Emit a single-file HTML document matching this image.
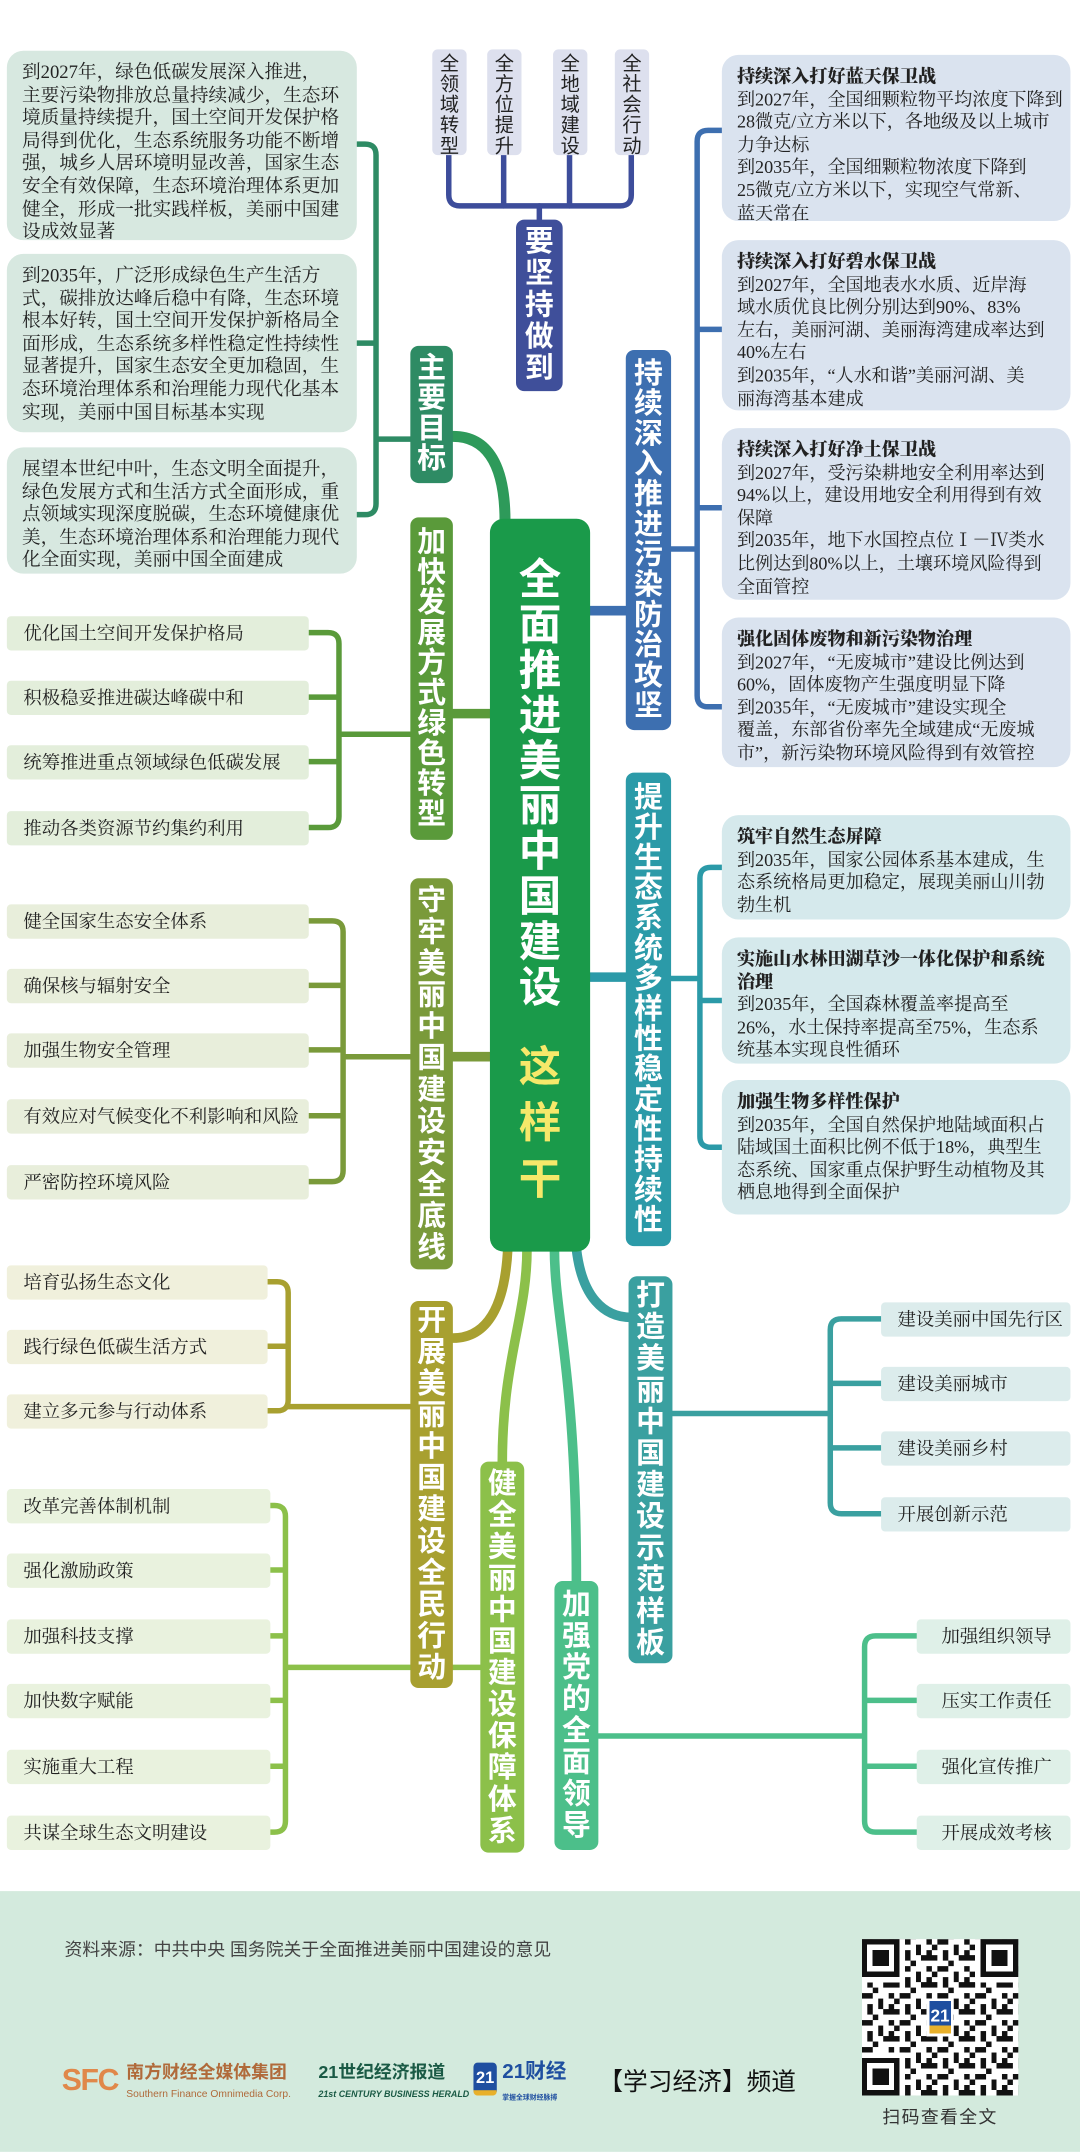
<!DOCTYPE html>
<html><head><meta charset="utf-8">
<style>
html,body{margin:0;padding:0;background:#fff;}
body{width:1080px;height:2151px;overflow:hidden;position:relative;}
#s{position:absolute;left:0;top:0;width:787px;height:1568px;transform:scale(1.37236);transform-origin:0 0;font-family:"Liberation Serif","Noto Serif CJK SC",serif;}
.a{position:absolute;}
.box{position:absolute;border-radius:12px;font-size:13.6px;line-height:16.6px;color:#222;white-space:nowrap;box-sizing:border-box;padding:8px 0 0 11px;}
.lb{background:#d7e8e0;}
.rb{background:#dae3ef;font-size:13.2px;}
.tb{background:#d5e9ec;font-size:13.2px;}
.box b{font-weight:900;}
.cat{position:absolute;border-radius:6px;color:#fff;font-weight:bold;font-family:"Liberation Sans","Noto Sans CJK SC",sans-serif;font-size:21px;display:flex;align-items:center;justify-content:center;}
.cat span{display:block;width:22px;word-break:break-all;white-space:normal;text-align:center;}
.it{position:absolute;height:25px;line-height:25px;font-size:13.4px;color:#222;box-sizing:border-box;padding-left:12px;border-radius:3px;white-space:nowrap;}
.sm{position:absolute;top:36px;width:25px;height:77px;background:#dde0ee;border-radius:4px;font-size:14px;line-height:15px;color:#222;text-align:center;padding-top:3px;box-sizing:border-box;font-family:"Liberation Sans","Noto Sans CJK SC",sans-serif;}
.sm span{display:block;width:14px;margin:0 auto;word-break:break-all;white-space:normal;}
</style></head><body>
<div id="s">
<svg class="a" style="left:0;top:0" width="787" height="1568" viewBox="0 0 787 1568" fill="none" stroke-linecap="round" stroke-linejoin="round">
<defs>
<linearGradient id="g1" x1="0" y1="0" x2="0" y2="1"><stop offset="0" stop-color="#3d4d9b"/><stop offset="1" stop-color="#1a9a4a"/></linearGradient>
</defs>
<g stroke="#3d4d9b" stroke-width="4">
<path d="M327 113V142Q327 150 335 150H452Q460 150 460 142V113"/>
<path d="M367 113V150M415 113V150M393 150V162"/>
</g>
<path d="M393 285V380" stroke="url(#g1)" stroke-width="6"/>
<g stroke="#2e8b64" stroke-width="4">
<path d="M260 105H266Q274 105 274 113V367Q274 375 266 375H260M260 250H274M274 320H299"/>
</g>
<path d="M330 318C356 318 368 340 368 380" stroke="#2e9a5a" stroke-width="8"/>
<g stroke="#5a9a3a" stroke-width="4">
<path d="M225 461H239Q247 461 247 469V595Q247 603 239 603H225M225 508H247M225 555H247M247 535H299"/>
<path d="M330 520H358" stroke-width="7"/>
</g>
<g stroke="#7a9a3a" stroke-width="4">
<path d="M225 671H242Q250 671 250 679V853Q250 861 242 861H225M225 718H250M225 765H250M225 813H250M250 770H299"/>
<path d="M330 770H358" stroke-width="7"/>
</g>
<g stroke="#a8a030" stroke-width="4">
<path d="M195 934H202Q210 934 210 942V1020Q210 1028 202 1028H195M195 981H210M210 1025H299"/>
<path d="M330 975C356 975 368 950 370 910" stroke-width="7"/>
</g>
<g stroke="#8cc04a" stroke-width="4">
<path d="M197 1097H200Q208 1097 208 1105V1327Q208 1335 200 1335H197M197 1144H208M197 1192H208M197 1239H208M197 1287H208M208 1215H350"/>
<path d="M366 1066C366 990 384 960 384 910" stroke-width="7"/>
</g>
<g stroke="#4cbf8a" stroke-width="4">
<path d="M668 1192H638Q630 1192 630 1200V1327Q630 1335 638 1335H668M668 1239H630M668 1287H630M436 1265H630"/>
<path d="M420 1153C420 1000 404 960 404 910" stroke-width="7"/>
</g>
<g stroke="#3aa0a0" stroke-width="4">
<path d="M642 961H613Q605 961 605 969V1095Q605 1103 613 1103H642M642 1008H605M642 1055H605M490 1030H605"/>
<path d="M420 910C424 945 440 960 460 960" stroke-width="7"/>
</g>
<g stroke="#2b9aa8" stroke-width="4">
<path d="M526 632H518Q510 632 510 640V828Q510 836 518 836H526M526 729H510M489 713H510"/>
<path d="M429 712H457" stroke-width="7"/>
</g>
<g stroke="#3d6fb0" stroke-width="4">
<path d="M526 95H516Q508 95 508 103V507Q508 515 516 515H526M526 240H508M526 370H508M489 400H508"/>
<path d="M429 445H457" stroke-width="7"/>
</g>
</svg>

<div class="sm" style="left:315px"><span>全领域转型</span></div>
<div class="sm" style="left:355px"><span>全方位提升</span></div>
<div class="sm" style="left:403px"><span>全地域建设</span></div>
<div class="sm" style="left:448px"><span>全社会行动</span></div>

<div class="cat" style="left:376px;top:160px;width:34px;height:125px;background:#3f4f9a;line-height:23px"><span>要坚持做到</span></div>

<div class="a" style="left:357px;top:378px;width:73px;height:534px;background:#1a9a4a;border-radius:10px;"></div>
<div class="a" style="left:377px;top:406px;width:33px;font-family:'Liberation Sans','Noto Sans CJK SC',sans-serif;font-weight:bold;font-size:31px;line-height:33px;color:#fff;text-align:center;word-break:break-all;">全面推进美丽中国建设</div>
<div class="a" style="left:377px;top:757px;width:33px;font-family:'Liberation Sans','Noto Sans CJK SC',sans-serif;font-weight:bold;font-size:31px;line-height:41px;color:#f6e86a;text-align:center;word-break:break-all;">这样干</div>

<div class="box lb" style="left:5px;top:37px;width:255px;height:138px">到2027年，绿色低碳发展深入推进，<br>主要污染物排放总量持续减少，生态环<br>境质量持续提升，国土空间开发保护格<br>局得到优化，生态系统服务功能不断增<br>强，城乡人居环境明显改善，国家生态<br>安全有效保障，生态环境治理体系更加<br>健全，形成一批实践样板，美丽中国建<br>设成效显著</div>
<div class="box lb" style="left:5px;top:185px;width:255px;height:130px">到2035年，广泛形成绿色生产生活方<br>式，碳排放达峰后稳中有降，生态环境<br>根本好转，国土空间开发保护新格局全<br>面形成，生态系统多样性稳定性持续性<br>显著提升，国家生态安全更加稳固，生<br>态环境治理体系和治理能力现代化基本<br>实现，美丽中国目标基本实现</div>
<div class="box lb" style="left:5px;top:326px;width:255px;height:92px">展望本世纪中叶，生态文明全面提升，<br>绿色发展方式和生活方式全面形成，重<br>点领域实现深度脱碳，生态环境健康优<br>美，生态环境治理体系和治理能力现代<br>化全面实现，美丽中国全面建成</div>

<div class="cat" style="left:299px;top:252px;width:31px;height:100px;background:#2e8b64;line-height:22px"><span>主要目标</span></div>

<div class="it" style="left:5px;top:449px;width:220px;background:#e3eedb">优化国土空间开发保护格局</div>
<div class="it" style="left:5px;top:496px;width:220px;background:#e3eedb">积极稳妥推进碳达峰碳中和</div>
<div class="it" style="left:5px;top:543px;width:220px;background:#e3eedb">统筹推进重点领域绿色低碳发展</div>
<div class="it" style="left:5px;top:591px;width:220px;background:#e3eedb">推动各类资源节约集约利用</div>
<div class="cat" style="left:299px;top:377px;width:31px;height:235px;background:#5a9a3a;line-height:22px"><span>加快发展方式绿色转型</span></div>

<div class="it" style="left:5px;top:659px;width:220px;background:#e8eedb">健全国家生态安全体系</div>
<div class="it" style="left:5px;top:706px;width:220px;background:#e8eedb">确保核与辐射安全</div>
<div class="it" style="left:5px;top:753px;width:220px;background:#e8eedb">加强生物安全管理</div>
<div class="it" style="left:5px;top:801px;width:220px;background:#e8eedb">有效应对气候变化不利影响和风险</div>
<div class="it" style="left:5px;top:849px;width:220px;background:#e8eedb">严密防控环境风险</div>
<div class="cat" style="left:299px;top:640px;width:31px;height:285px;background:#7a9a3a;line-height:23px"><span>守牢美丽中国建设安全底线</span></div>

<div class="it" style="left:5px;top:922px;width:190px;background:#f0f0dc">培育弘扬生态文化</div>
<div class="it" style="left:5px;top:969px;width:190px;background:#f0f0dc">践行绿色低碳生活方式</div>
<div class="it" style="left:5px;top:1016px;width:190px;background:#f0f0dc">建立多元参与行动体系</div>
<div class="cat" style="left:299px;top:948px;width:31px;height:282px;background:#a8a030;line-height:23px"><span>开展美丽中国建设全民行动</span></div>

<div class="it" style="left:5px;top:1085px;width:192px;background:#e9f2de">改革完善体制机制</div>
<div class="it" style="left:5px;top:1132px;width:192px;background:#e9f2de">强化激励政策</div>
<div class="it" style="left:5px;top:1180px;width:192px;background:#e9f2de">加强科技支撑</div>
<div class="it" style="left:5px;top:1227px;width:192px;background:#e9f2de">加快数字赋能</div>
<div class="it" style="left:5px;top:1275px;width:192px;background:#e9f2de">实施重大工程</div>
<div class="it" style="left:5px;top:1323px;width:192px;background:#e9f2de">共谋全球生态文明建设</div>
<div class="cat" style="left:350px;top:1065px;width:32px;height:285px;background:#8cc04a;line-height:23px"><span>健全美丽中国建设保障体系</span></div>

<div class="it" style="left:668px;top:1180px;width:112px;background:#dff0e8;padding-left:18px">加强组织领导</div>
<div class="it" style="left:668px;top:1227px;width:112px;background:#dff0e8;padding-left:18px">压实工作责任</div>
<div class="it" style="left:668px;top:1275px;width:112px;background:#dff0e8;padding-left:18px">强化宣传推广</div>
<div class="it" style="left:668px;top:1323px;width:112px;background:#dff0e8;padding-left:18px">开展成效考核</div>
<div class="cat" style="left:404px;top:1152px;width:32px;height:196px;background:#4cbf8a;line-height:23px"><span>加强党的全面领导</span></div>

<div class="it" style="left:642px;top:949px;width:138px;background:#dcecec">建设美丽中国先行区</div>
<div class="it" style="left:642px;top:996px;width:138px;background:#dcecec">建设美丽城市</div>
<div class="it" style="left:642px;top:1043px;width:138px;background:#dcecec">建设美丽乡村</div>
<div class="it" style="left:642px;top:1091px;width:138px;background:#dcecec">开展创新示范</div>
<div class="cat" style="left:458px;top:930px;width:32px;height:282px;background:#3aa0a0;line-height:23px"><span>打造美丽中国建设示范样板</span></div>

<div class="cat" style="left:456px;top:563px;width:33px;height:345px;background:#2b9aa8;line-height:22px"><span>提升生态系统多样性稳定性持续性</span></div>
<div class="box tb" style="left:526px;top:594px;width:254px;height:76px"><b>筑牢自然生态屏障</b><br>到2035年，国家公园体系基本建成，生<br>态系统格局更加稳定，展现美丽山川勃<br>勃生机</div>
<div class="box tb" style="left:526px;top:683px;width:254px;height:92px"><b>实施山水林田湖草沙一体化保护和系统<br>治理</b><br>到2035年，全国森林覆盖率提高至<br>26%，水土保持率提高至75%，生态系<br>统基本实现良性循环</div>
<div class="box tb" style="left:526px;top:787px;width:254px;height:98px"><b>加强生物多样性保护</b><br>到2035年，全国自然保护地陆域面积占<br>陆域国土面积比例不低于18%，典型生<br>态系统、国家重点保护野生动植物及其<br>栖息地得到全面保护</div>

<div class="cat" style="left:456px;top:255px;width:33px;height:277px;background:#3d6fb0;line-height:22px"><span>持续深入推进污染防治攻坚</span></div>
<div class="box rb" style="left:526px;top:40px;width:254px;height:121px"><b>持续深入打好蓝天保卫战</b><br>到2027年，全国细颗粒物平均浓度下降到<br>28微克/立方米以下，各地级及以上城市<br>力争达标<br>到2035年，全国细颗粒物浓度下降到<br>25微克/立方米以下，实现空气常新、<br>蓝天常在</div>
<div class="box rb" style="left:526px;top:175px;width:254px;height:124px"><b>持续深入打好碧水保卫战</b><br>到2027年，全国地表水水质、近岸海<br>域水质优良比例分别达到90%、83%<br>左右，美丽河湖、美丽海湾建成率达到<br>40%左右<br>到2035年，“人水和谐”美丽河湖、美<br>丽海湾基本建成</div>
<div class="box rb" style="left:526px;top:312px;width:254px;height:125px"><b>持续深入打好净土保卫战</b><br>到2027年，受污染耕地安全利用率达到<br>94%以上，建设用地安全利用得到有效<br>保障<br>到2035年，地下水国控点位Ⅰ－Ⅳ类水<br>比例达到80%以上，土壤环境风险得到<br>全面管控</div>
<div class="box rb" style="left:526px;top:450px;width:254px;height:109px"><b>强化固体废物和新污染物治理</b><br>到2027年，“无废城市”建设比例达到<br>60%，固体废物产生强度明显下降<br>到2035年，“无废城市”建设实现全<br>覆盖，东部省份率先全域建成“无废城<br>市”，新污染物环境风险得到有效管控</div>

<div class="a" style="left:0;top:1378px;width:787px;height:190px;background:#d3eadd"></div>
<div class="a" style="left:47px;top:1410px;font-size:13px;color:#444;font-family:'Liberation Sans','Noto Sans CJK SC',sans-serif;white-space:nowrap">资料来源：中共中央 国务院关于全面推进美丽中国建设的意见</div>
<div class="a" style="left:45px;top:1503px;font-family:'Liberation Sans',sans-serif;font-weight:bold;font-size:22px;color:#e0884a;letter-spacing:-1px;">SFC</div>
<div class="a" style="left:92px;top:1503px;font-family:'Liberation Sans','Noto Sans CJK SC',sans-serif;font-weight:bold;font-size:13px;line-height:14px;color:#b06a3a;white-space:nowrap">南方财经全媒体集团<br><span style="font-size:7.5px;font-weight:normal">Southern Finance Omnimedia Corp.</span></div>
<div class="a" style="left:232px;top:1503px;font-family:'Liberation Sans','Noto Sans CJK SC',sans-serif;font-weight:bold;font-size:13px;line-height:14px;color:#1a5a45;white-space:nowrap">21世纪经济报道<br><span style="font-size:6.5px;font-style:italic">21st CENTURY BUSINESS HERALD</span></div>
<div class="a" style="left:345px;top:1503px;width:17px;height:24px;background:#1f4fa0;border-radius:3px;color:#fff;font-weight:bold;font-size:12px;line-height:22px;text-align:center;font-family:'Liberation Sans',sans-serif;border-bottom:4px solid #e8b02a;box-sizing:border-box">21</div>
<div class="a" style="left:366px;top:1502px;font-family:'Liberation Sans','Noto Sans CJK SC',sans-serif;font-weight:bold;font-size:15px;line-height:16px;color:#1f4fa0;white-space:nowrap">21财经<br><span style="font-size:5px">掌握全球财经脉搏</span></div>
<div class="a" style="left:436px;top:1503px;font-family:'Liberation Sans','Noto Sans CJK SC',sans-serif;font-size:18px;color:#111;white-space:nowrap">【学习经济】频道</div>
<svg class="a" style="left:628px;top:1413px" width="114" height="114" viewBox="0 0 29 29" shape-rendering="crispEdges">
<defs><pattern id="q" width="7" height="5" patternUnits="userSpaceOnUse"><rect x="0" y="0" width="2" height="1" fill="#111"/><rect x="3" y="1" width="1" height="2" fill="#111"/><rect x="5" y="0" width="1" height="1" fill="#111"/><rect x="1" y="2" width="1" height="2" fill="#111"/><rect x="4" y="3" width="3" height="1" fill="#111"/><rect x="6" y="1" width="1" height="1" fill="#111"/><rect x="2" y="4" width="1" height="1" fill="#111"/><rect x="5" y="2" width="1" height="1" fill="#111"/></pattern></defs>
<rect width="29" height="29" fill="#fff"/>
<rect width="29" height="29" fill="url(#q)"/>
<g fill="#fff"><rect x="0" y="0" width="8" height="8"/><rect x="21" y="0" width="8" height="8"/><rect x="0" y="21" width="8" height="8"/></g>
<g fill="#111"><rect x="0" y="0" width="7" height="7"/><rect x="22" y="0" width="7" height="7"/><rect x="0" y="22" width="7" height="7"/></g>
<g fill="#fff"><rect x="1" y="1" width="5" height="5"/><rect x="23" y="1" width="5" height="5"/><rect x="1" y="23" width="5" height="5"/></g>
<g fill="#111"><rect x="2" y="2" width="3" height="3"/><rect x="24" y="2" width="3" height="3"/><rect x="2" y="24" width="3" height="3"/></g>
<rect x="12" y="11" width="5" height="7" fill="#fff"/>
<rect x="12.5" y="11.5" width="4" height="5" fill="#1f4fa0"/>
<rect x="12.5" y="16" width="4" height="1.5" fill="#e8b02a"/>
<text x="14.5" y="15.3" font-size="3.2" fill="#fff" text-anchor="middle" font-family="Liberation Sans" font-weight="bold">21</text>
</svg>
<div class="a" style="left:628px;top:1532px;width:114px;text-align:center;font-size:13px;color:#333;font-family:'Liberation Sans','Noto Sans CJK SC',sans-serif;letter-spacing:1px">扫码查看全文</div>
</div>
</body></html>
